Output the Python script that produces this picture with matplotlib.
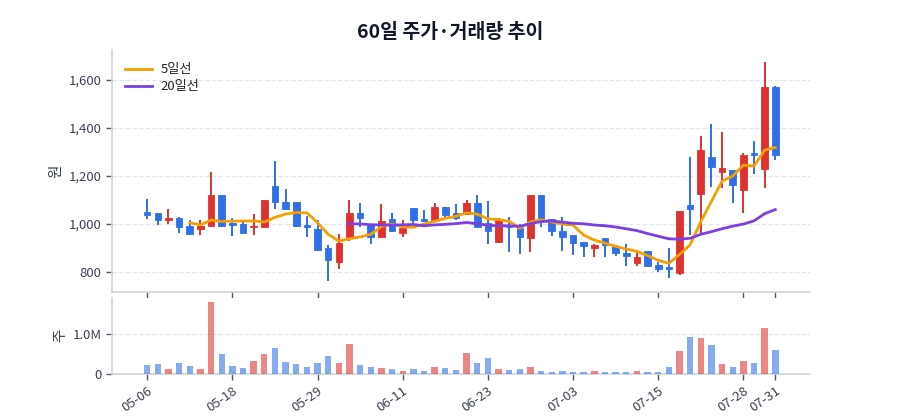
import matplotlib
matplotlib.use('Agg')
import matplotlib.pyplot as plt
import numpy as np
import pandas as pd
from matplotlib.ticker import FuncFormatter

plt.rcParams['font.family'] = ['Noto Sans CJK KR', 'DejaVu Sans']

# daily OHLC (원)
opens = [1051, 1044, 1017, 1024, 992, 978, 992, 1121, 1003, 999,
         986, 989, 1160, 1092, 1092, 996, 979, 899, 843, 947,
         1044, 996, 947, 1019, 961, 1065, 1021, 1017, 1069, 1044,
         1040, 1089, 1003, 926, 996, 982, 942, 1119, 1019, 972,
         954, 926, 901, 940, 908, 881, 839, 889, 828, 822,
         797, 1079, 1124, 1281, 1215, 1225, 1142, 1297, 1228, 1569]
highs = [1103, 1044, 1064, 1028, 1017, 1017, 1218, 1121, 1026, 1007,
         1040, 1100, 1262, 1144, 1092, 1033, 1017, 912, 957, 1100,
         1089, 996, 1083, 1044, 1017, 1065, 1057, 1086, 1072, 1083,
         1100, 1119, 1097, 1024, 1031, 1000, 1119, 1119, 1019, 1028,
         954, 926, 917, 940, 912, 917, 889, 889, 843, 899,
         1054, 1281, 1367, 1417, 1385, 1225, 1294, 1347, 1676, 1575]
lows = [1019, 996, 1000, 961, 956, 954, 990, 986, 950, 961,
        954, 986, 1061, 1058, 986, 947, 889, 764, 811, 931,
        989, 917, 944, 968, 944, 996, 1010, 1010, 1031, 1017,
        1037, 986, 917, 919, 883, 875, 885, 989, 950, 886,
        871, 861, 864, 864, 868, 825, 825, 822, 801, 774,
        787, 954, 954, 1153, 1149, 1086, 1047, 1208, 1151, 1267]
closes = [1037, 1017, 1024, 989, 958, 992, 1121, 993, 994, 961,
          993, 1100, 1090, 1062, 993, 988, 892, 850, 919, 1044,
          1024, 947, 1014, 972, 982, 1017, 1014, 1069, 1037, 1024,
          1089, 986, 972, 1019, 989, 944, 1119, 1017, 972, 947,
          922, 910, 912, 912, 878, 867, 861, 825, 814, 811,
          1054, 1062, 1308, 1236, 1232, 1162, 1287, 1289, 1569, 1287]
# volume in millions of shares
volumes = [0.21, 0.25, 0.12, 0.27, 0.20, 0.12, 1.79, 0.50, 0.19, 0.15,
           0.32, 0.49, 0.64, 0.30, 0.24, 0.17, 0.27, 0.45, 0.26, 0.74,
           0.22, 0.17, 0.14, 0.12, 0.07, 0.12, 0.07, 0.17, 0.14, 0.10,
           0.53, 0.28, 0.39, 0.12, 0.10, 0.12, 0.17, 0.07, 0.05, 0.07,
           0.05, 0.04, 0.06, 0.05, 0.05, 0.05, 0.06, 0.05, 0.05, 0.17,
           0.57, 0.93, 0.89, 0.72, 0.24, 0.17, 0.32, 0.27, 1.14, 0.59]

tick_idx = [0, 8, 16, 24, 32, 40, 48, 56, 59]
tick_labels = ['05-06', '05-18', '05-29', '06-11', '06-23', '07-03', '07-15', '07-28', '07-31']

UP = '#e03131'
DOWN = '#2f6fe8'
MA5_C = '#f59f00'
MA20_C = '#7b3fe4'
SPINE = '#cfd4de'
TXT = '#3b4252'

df = pd.DataFrame({'o': opens, 'h': highs, 'l': lows, 'c': closes, 'v': volumes})
df['ma5'] = df['c'].rolling(5).mean()
df['ma20'] = df['c'].rolling(20).mean()
x = np.arange(len(df))
up = df['c'] >= df['o']
cols = np.where(up, UP, DOWN)

fig = plt.figure(figsize=(9, 4.2), dpi=100)
ax = fig.add_axes([0.1245, 0.305, 0.776, 0.576])
axv = fig.add_axes([0.1245, 0.110, 0.776, 0.181], sharex=ax)

# candles
ax.vlines(x, df['l'], df['h'], colors=cols, linewidth=1.4, zorder=2)
body_lo = np.minimum(df['o'], df['c'])
body_h = np.maximum(np.abs(df['c'] - df['o']), 4)
ax.bar(x, body_h, bottom=body_lo, width=0.62, color=cols,
       edgecolor=cols, linewidth=0.6, zorder=3)
ax.plot(x, df['ma5'], color=MA5_C, lw=2, label='5일선', zorder=4)
ax.plot(x, df['ma20'], color=MA20_C, lw=2, label='20일선', zorder=4)

ax.set_ylim(717, 1725)
ax.set_xlim(-3.3, 62.3)
ax.yaxis.set_major_formatter(FuncFormatter(lambda v, p: f'{int(v):,}'))
ax.set_ylabel('원', color=TXT, fontsize=10.5)
leg = ax.legend(loc='upper left', frameon=False, fontsize=9.5, handlelength=2.0,
                handletextpad=0.7, borderaxespad=0.6, labelspacing=0.3)
for t in leg.get_texts():
    t.set_color('#222222')

# volume
axv.bar(x, df['v'], width=0.6, color=cols, alpha=0.58, zorder=3)
axv.set_ylim(0, 1.9)
axv.set_yticks([0, 1.0])
axv.set_yticklabels(['0', '1.0M'])
axv.set_ylabel('주', color=TXT, fontsize=10.5)
axv.set_xticks(tick_idx)
axv.set_xticklabels(tick_labels, rotation=35, ha='right', rotation_mode='anchor')

for a in (ax, axv):
    for s in ('top', 'right'):
        a.spines[s].set_visible(False)
    for s in ('left', 'bottom'):
        a.spines[s].set_color(SPINE)
        a.spines[s].set_linewidth(1.2)
    a.grid(axis='y', color='#e3e6ec', linestyle='--', linewidth=0.9, zorder=0)
    a.set_axisbelow(True)
    a.tick_params(colors='#555b66', labelcolor=TXT, labelsize=9.5, length=4, width=1)
ax.tick_params(axis='x', labelbottom=False)

fig.suptitle('60일 주가·거래량 추이', fontsize=14, fontweight='bold',
             color='#111827', x=0.5, y=0.945)

fig.savefig('out.png', dpi=100)
